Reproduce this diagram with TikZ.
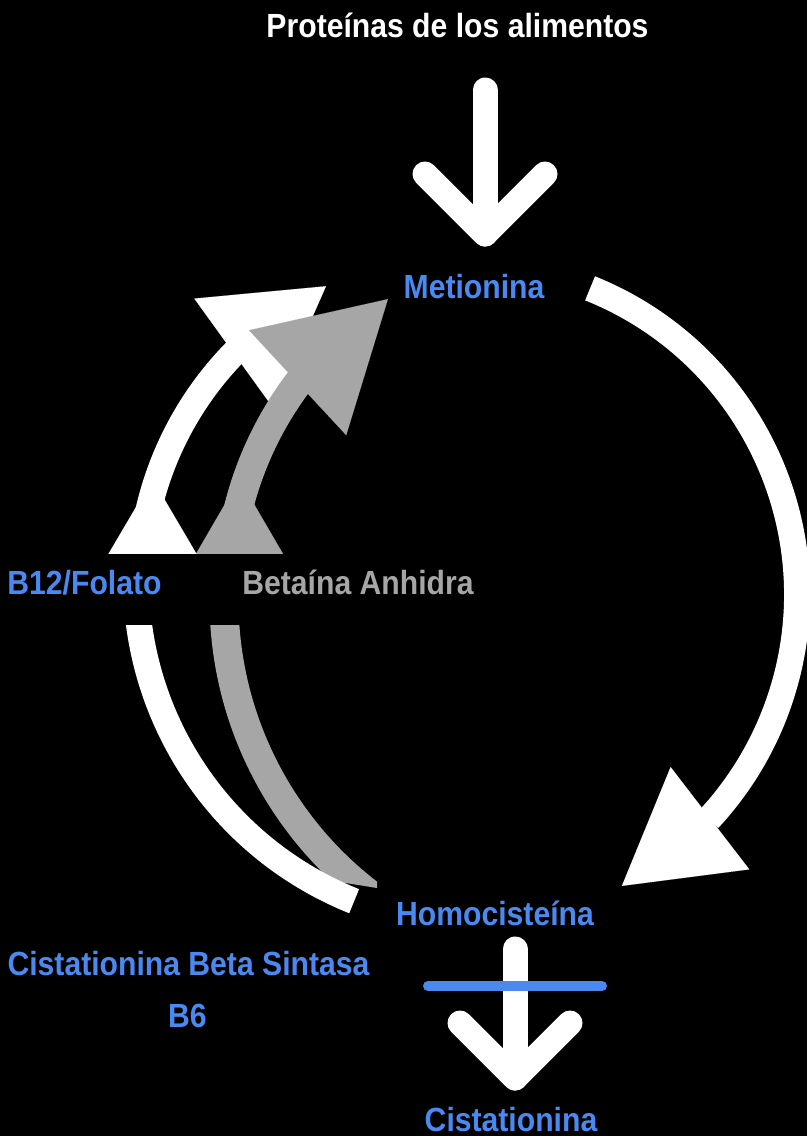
\documentclass[tikz,border=0pt]{standalone}
\usepackage{fontspec}
\setmainfont{Liberation Sans}[FakeStretch=0.9]
\usetikzlibrary{arrows.meta, bending, positioning}
\definecolor{LabelBlue}{RGB}{74,138,240}
\definecolor{BetaGray}{RGB}{166,166,166}
\tikzset{
    lbl/.style={font=\fontsize{33.5}{40}\selectfont\bfseries, inner sep=0pt, anchor=base},
    feed/.style={draw=white, line width=25pt, line cap=round, line join=round},
    whiteband/.style={draw=white, line width=26pt},
    grayband/.style={draw=BetaGray, line width=29pt},
    whitearc/.style={whiteband,
        -{Triangle[length=114pt, width=134pt, flex, line width=0.01pt]}},
    grayarc/.style={grayband,
        -{Triangle[length=123pt, width=143pt, flex, line width=0.01pt]}}
}
\begin{document}
\begin{tikzpicture}[x=1pt, y=-1pt]

% Page
\fill[black] (0,0) rectangle (807,1136);
\useasboundingbox (0,0) rectangle (807,1136);

% Centres of the circular arrows
\coordinate (cRight) at (467,594.5);
\coordinate (cWhiteUp) at (473,585);
\coordinate (cWhiteLow) at (483,579);
\coordinate (cGrayUp) at (578,593);
\coordinate (cGrayLow) at (594,600);

% Ends of the straight arrows
\coordinate (protOut) at (485,90);
\coordinate (metIn) at (485,234);
\coordinate (homoOut) at (515,949);
\coordinate (cistIn) at (515,1078);
\coordinate (blockL) at (428,986);
\coordinate (blockR) at (602,986);
\coordinate (whiteTip) at (152.5,479);
\coordinate (grayTip) at (239.5,479);

% Food proteins in
\draw[feed] (protOut) -- (metIn);
\draw[feed] ([shift={(-60,-60)}]metIn) -- (metIn) -- ++(60,-60);

% Metionina -> Homocisteina
\draw[whitearc, -{Triangle[length=111pt, width=129pt, flex, line width=0.01pt]}]
    ([shift={(-68.1:330)}]cRight) arc[start angle=-68.1, end angle=62, radius=330];

% Homocisteina -> Metionina (lower halves first)
\begin{scope}
    \clip (0,0) -- (377,0) -- (377,888) -- (0,827.7) -- cycle;
    \draw[grayband] ([shift={(115:370)}]cGrayLow) arc[start angle=115, end angle=180, radius=370];
\end{scope}
\draw[grayarc] ([shift={(0,136)}]grayTip) -- (grayTip);
\draw[whiteband] ([shift={(111.8:347)}]cWhiteLow) arc[start angle=111.8, end angle=180, radius=347];
\draw[whitearc] ([shift={(0,122)}]whiteTip) -- (whiteTip);
\draw[whitearc] ([shift={(180:333)}]cWhiteUp) arc[start angle=180, end angle=243.8, radius=333];
\draw[grayarc] ([shift={(180:350)}]cGrayUp) arc[start angle=180, end angle=237.1, radius=350];

% gap behind the labels
\fill[black] (60,554) rectangle (325,625);

% Homocisteina -> Cistationina (blocked)
\draw[feed] (homoOut) -- (cistIn);
\draw[feed] ([shift={(-55,-55)}]cistIn) -- (cistIn) -- ++(55,-55);
\draw[LabelBlue, line width=10pt, line cap=round] (blockL) -- (blockR);

% Labels
\node[lbl, white] (prot) at (457.5,37) {Proteínas de los alimentos};
\node[lbl, LabelBlue] (met) at (474,298) {Metionina};
\node[lbl, LabelBlue] (b12) at (84.5,594) {B12/Folato};
\node[lbl, BetaGray] (bet) at (358,594) {Betaína Anhidra};
\node[lbl, LabelBlue] (homo) at (495,925) {Homocisteína};
\node[lbl, LabelBlue] (cbs) at (188.5,975) {Cistationina Beta Sintasa};
\node[lbl, LabelBlue] (b6) at (187.5,1027) {B6};
\node[lbl, LabelBlue] (cist) at (511,1131) {Cistationina};

\end{tikzpicture}
\end{document}
